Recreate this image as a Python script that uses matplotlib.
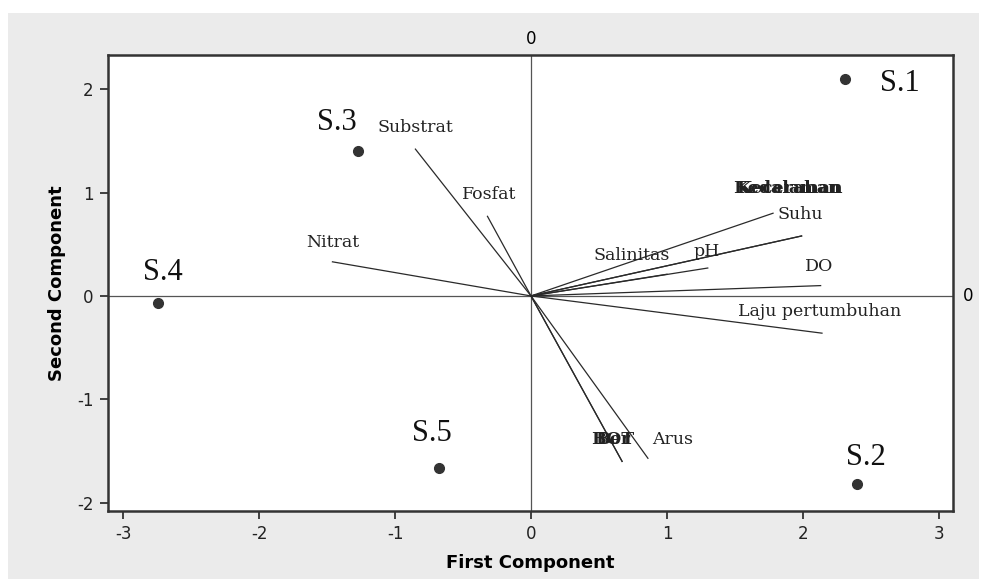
import matplotlib.pyplot as plt
from matplotlib.patches import Rectangle

plt.rcParams['axes.unicode_minus'] = False

# site scores on the first two components
sites = ['S.1', 'S.2', 'S.3', 'S.4', 'S.5']
site_pc1 = [2.31, 2.40, -1.27, -2.74, -0.68]
site_pc2 = [2.10, -1.82, 1.40, -0.07, -1.66]

# variable loadings (vector ends)
variables = ['Kedalaman', 'Kecerahan', 'Suhu', 'Salinitas', 'pH', 'DO',
             'Laju pertumbuhan', 'BOT', 'Ber', 'Arus',
             'Substrat', 'Fosfat', 'Nitrat']
var_pc1 = [1.99, 1.99, 1.78, 1.00, 1.30, 2.13, 2.14, 0.67, 0.67, 0.86,
           -0.85, -0.32, -1.46]
var_pc2 = [0.58, 0.58, 0.80, 0.21, 0.27, 0.10, -0.36, -1.60, -1.60, -1.57,
           1.42, 0.77, 0.33]

# where the text goes for each label
site_text_xy = [(2.71, 2.05), (2.46, -1.56), (-1.43, 1.68), (-2.71, 0.23), (-0.73, -1.33)]
var_text_xy = [(1.89, 1.04), (1.89, 1.04), (1.98, 0.79), (0.74, 0.39), (1.29, 0.43),
               (2.12, 0.28), (2.12, -0.155), (0.60, -1.39), (0.60, -1.39),
               (1.04, -1.39), (-0.85, 1.63), (-0.31, 0.98), (-1.46, 0.52)]
var_bold = {'Kedalaman', 'Kecerahan', 'BOT', 'Ber'}

xticks = [-3, -2, -1, 0, 1, 2, 3]
yticks = [-2, -1, 0, 1, 2]

fig = plt.figure(figsize=(9.82, 5.79), dpi=100, facecolor='white')
fig.patches.append(Rectangle((8 / 982, 0), 971 / 982, 1 - 13 / 579,
                             transform=fig.transFigure, facecolor='#ebebeb',
                             edgecolor='none', zorder=-10))

ax = fig.add_axes([0.1095, 0.1174, 0.8605, 0.7876])
ax.set_facecolor('white')
ax.set_xlim(-3.114, 3.10)
ax.set_ylim(-2.08, 2.33)

ink = '#2a2a2a'
ax.axhline(0, color='#555555', lw=0.9, zorder=1)
ax.axvline(0, color='#555555', lw=0.9, zorder=1)

for x, y in zip(var_pc1, var_pc2):
    ax.plot([0, x], [0, y], color=ink, lw=0.9, zorder=2)

for name, (tx, ty) in zip(variables, var_text_xy):
    ax.text(tx, ty, name, ha='center', va='center', fontsize=12.5,
            family='DejaVu Serif', color='#222222',
            fontweight='bold' if name in var_bold else 'normal', zorder=3)

ax.plot(site_pc1, site_pc2, 'o', color='#333333', ms=7, zorder=4)
for name, (tx, ty) in zip(sites, site_text_xy):
    ax.text(tx, ty, name, ha='center', va='center', fontsize=22,
            family='Liberation Serif', color='#111111', zorder=4)

ax.set_xticks(xticks)
ax.set_yticks(yticks)
ax.tick_params(direction='out', length=6, width=1.2, colors='#222222',
               labelsize=12, pad=4)
for s in ax.spines.values():
    s.set_color('#333333')
    s.set_linewidth(1.8)

ax.set_xlabel('First Component', fontsize=13, fontweight='bold', labelpad=8)
ax.set_ylabel('Second Component', fontsize=13, fontweight='bold', labelpad=8)

# reference line labels
ax.text(0, 1.015, '0', transform=ax.get_xaxis_transform(), ha='center',
        va='bottom', fontsize=12)
ax.text(1.012, 0, '0', transform=ax.get_yaxis_transform(), ha='left',
        va='center', fontsize=12)

fig.savefig('out.png', dpi=100, facecolor=fig.get_facecolor())
